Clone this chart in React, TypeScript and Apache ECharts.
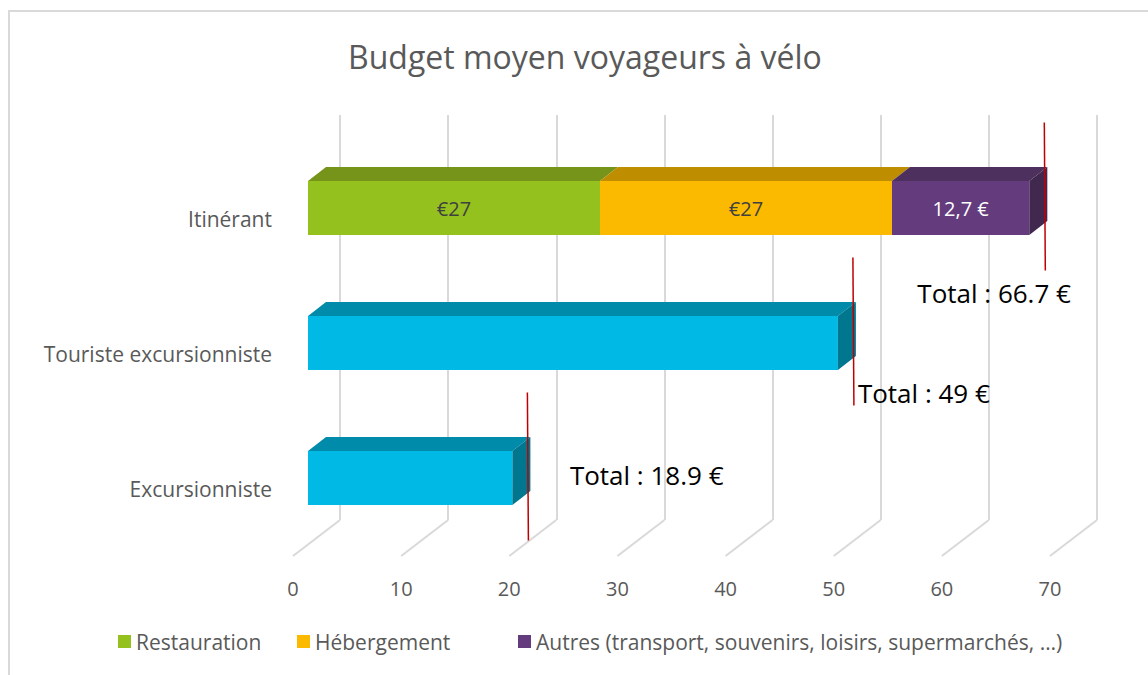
import React, { useEffect, useRef } from "react";
import * as echarts from "echarts";

// ---------- data ----------
const categories = ["Itinérant", "Touriste excursionniste", "Excursionniste"];
const restauration = [27, null, null];
const hebergement = [27, null, null];
const autres = [12.7, null, null];
const budgetGlobal = [null, 49, 18.9]; // profiles without a breakdown
const xMin = 0;
const xMax = 70;
const xStep = 10;
const xTicks = [0, 10, 20, 30, 40, 50, 60, 70];

// ---------- layout / style constants ----------
const FONT = "'Open Sans', 'Noto Sans', sans-serif";
const GREY_TEXT = "#595959";
const GRID_GREY = "#D9D9D9";
const FRONT_DX = -32; // bar front face offset from back plane
const FRONT_DY = 25.5;
const DEPTH_X = 18; // bar depth projection
const DEPTH_Y = -14;
const BAR_H = 54;
const FLOOR_DX = -47;
const FLOOR_DY = 36;
// hand-placed "Total" text boxes, relative to the bar's front-right corner / category centre
const TOTAL_TEXT_OFFSETS = [
  [-112, 110.5],
  [20, 75.5],
  [57.5, 22.5],
];

type Faces = { front: string; top: string; side: string };
const GREEN: Faces = { front: "#95C11F", top: "#76941A", side: "#5F7A14" };
const ORANGE: Faces = { front: "#FBBA00", top: "#BE8D00", side: "#9A7300" };
const PURPLE: Faces = { front: "#643C7D", top: "#4E305F", side: "#41284F" };
const CYAN: Faces = { front: "#00B9E4", top: "#008BAB", side: "#00768F" };

const stackSeries = [
  { name: "Restauration", values: restauration, faces: GREEN, labelColor: "#404040", fmt: (v: number) => `€${v}` },
  { name: "Hébergement", values: hebergement, faces: ORANGE, labelColor: "#404040", fmt: (v: number) => `€${v}` },
  {
    name: "Autres (transport, souvenirs, loisirs, supermarchés, …)",
    values: autres,
    faces: PURPLE,
    labelColor: "#FFFFFF",
    fmt: (v: number) => `${String(v).replace(".", ",")} €`,
  },
];

function totals(): number[] {
  return categories.map((_, i) => {
    let t = 0;
    stackSeries.forEach((s) => (t += s.values[i] ?? 0));
    t += budgetGlobal[i] ?? 0;
    return Math.round(t * 10) / 10;
  });
}

function buildBarData(seriesIdx: number): any[] {
  const all = [...stackSeries.map((s) => s.values), budgetGlobal];
  const out: any[] = [];
  categories.forEach((_, i) => {
    const v = all[seriesIdx][i];
    if (v == null) return;
    let start = 0;
    for (let k = 0; k < seriesIdx; k++) start += all[k][i] ?? 0;
    let isLast = 1;
    for (let k = seriesIdx + 1; k < all.length; k++) if (all[k][i] != null) isLast = 0;
    out.push([i, start, start + v, isLast, v]);
  });
  return out;
}

function barRenderer(faces: Faces, labelColor: string | null, fmt: ((v: number) => string) | null) {
  return (params: any, api: any) => {
    const cat = api.value(0);
    const s = api.value(1);
    const e = api.value(2);
    const isLast = api.value(3);
    const v = api.value(4);
    const p0 = api.coord([s, cat]);
    const p1 = api.coord([e, cat]);
    const x0 = p0[0] + FRONT_DX;
    const x1 = p1[0] + FRONT_DX;
    const yc = p0[1] + FRONT_DY;
    const yT = yc - BAR_H / 2;
    const yB = yc + BAR_H / 2;
    const children: any[] = [
      {
        type: "polygon",
        shape: { points: [[x0, yT], [x1, yT], [x1 + DEPTH_X, yT + DEPTH_Y], [x0 + DEPTH_X, yT + DEPTH_Y]] },
        style: { fill: faces.top },
      },
      {
        type: "rect",
        shape: { x: x0, y: yT, width: x1 - x0, height: BAR_H },
        style: { fill: faces.front },
      },
    ];
    if (isLast) {
      children.push({
        type: "polygon",
        shape: { points: [[x1, yT], [x1 + DEPTH_X, yT + DEPTH_Y], [x1 + DEPTH_X, yB + DEPTH_Y], [x1, yB]] },
        style: { fill: faces.side },
      });
    }
    if (fmt && labelColor) {
      children.push({
        type: "text",
        style: {
          text: fmt(v),
          x: (x0 + x1) / 2,
          y: yc,
          align: "center",
          verticalAlign: "middle",
          fill: labelColor,
          fontSize: 20,
          fontFamily: FONT,
        },
      });
    }
    return { type: "group", children };
  };
}

export default function App() {
  const ref = useRef<HTMLDivElement>(null);
  useEffect(() => {
    document.body.style.margin = "0";
    if (!ref.current) return;
    const chart = echarts.init(ref.current, null, { renderer: "svg" });
    const tot = totals();

    const barSeries: any[] = stackSeries.map((s, idx) => ({
      type: "custom",
      name: s.name,
      xAxisIndex: 0,
      yAxisIndex: 0,
      itemStyle: { color: s.faces.front },
      encode: { x: [1, 2], y: 0 },
      renderItem: barRenderer(s.faces, s.labelColor, s.fmt),
      data: buildBarData(idx),
      z: 3,
    }));
    barSeries.push({
      type: "custom",
      name: "Budget",
      xAxisIndex: 0,
      yAxisIndex: 0,
      itemStyle: { color: CYAN.front },
      encode: { x: [1, 2], y: 0 },
      renderItem: barRenderer(CYAN, null, null),
      data: buildBarData(stackSeries.length),
      z: 3,
    });

    const floorSeries = {
      type: "custom",
      name: "floor",
      xAxisIndex: 0,
      yAxisIndex: 0,
      silent: true,
      encode: { x: 0, y: 1 },
      data: xTicks.map((v) => [v, 0]),
      renderItem: (params: any, api: any) => {
        const p = api.coord([api.value(0), 0]);
        const bottom = params.coordSys.y + params.coordSys.height;
        return {
          type: "line",
          shape: { x1: p[0], y1: bottom, x2: p[0] + FLOOR_DX, y2: bottom + FLOOR_DY },
          style: { stroke: GRID_GREY, lineWidth: 2 },
        };
      },
      z: 1,
    };

    const totalSeries = {
      type: "custom",
      name: "totals",
      xAxisIndex: 0,
      yAxisIndex: 0,
      silent: true,
      encode: { x: 1, y: 0 },
      data: tot.map((t, i) => [i, t]),
      renderItem: (params: any, api: any) => {
        const i = api.value(0);
        const t = api.value(1);
        const p = api.coord([t, i]);
        const fx = p[0] + FRONT_DX;
        const off = TOTAL_TEXT_OFFSETS[i];
        return {
          type: "group",
          children: [
            {
              type: "line",
              shape: { x1: fx + 15, y1: p[1] - 60, x2: fx + 16, y2: p[1] + 88 },
              style: { stroke: "#C00000", lineWidth: 1.5 },
            },
            {
              type: "text",
              style: {
                text: `Total : ${t} €`,
                x: fx + off[0],
                y: p[1] + off[1],
                align: "left",
                verticalAlign: "middle",
                fill: "#000000",
                fontSize: 26,
                fontFamily: FONT,
              },
            },
          ],
        };
      },
      z: 5,
    };

    const legendBase = {
      icon: "rect",
      itemWidth: 13,
      itemHeight: 13,
      top: 631,
      padding: 0,
      selectedMode: false,
      textStyle: { color: GREY_TEXT, fontSize: 21, fontFamily: FONT },
    };

    chart.setOption({
      animation: false,
      backgroundColor: "#FFFFFF",
      title: {
        text: "Budget moyen voyageurs à vélo",
        left: 343,
        top: 35,
        textStyle: { color: GREY_TEXT, fontSize: 32, fontWeight: "normal", fontFamily: FONT },
      },
      legend: [
        { ...legendBase, left: 118, data: [stackSeries[0].name] },
        { ...legendBase, left: 297, data: [stackSeries[1].name] },
        { ...legendBase, left: 518, data: [stackSeries[2].name] },
      ],
      grid: [
        { left: 340, right: 51, top: 115, bottom: 155 },
        { left: 293, right: 98, top: 151, bottom: 119 },
      ],
      xAxis: [
        {
          gridIndex: 0,
          type: "value",
          min: xMin,
          max: xMax,
          interval: xStep,
          axisLine: { show: false },
          axisTick: { show: false },
          axisLabel: { show: false },
          splitLine: { show: true, lineStyle: { color: GRID_GREY, width: 2 } },
        },
        {
          gridIndex: 1,
          type: "value",
          min: xMin,
          max: xMax,
          interval: xStep,
          axisLine: { show: false },
          axisTick: { show: false },
          splitLine: { show: false },
          axisLabel: { color: GREY_TEXT, fontSize: 20, fontFamily: FONT, margin: 22 },
        },
      ],
      yAxis: [
        {
          gridIndex: 0,
          type: "category",
          inverse: true,
          data: categories,
          axisLine: { show: false },
          axisTick: { show: false },
          axisLabel: { show: false },
          splitLine: { show: false },
        },
        {
          gridIndex: 1,
          type: "category",
          inverse: true,
          data: categories,
          axisLine: { show: false },
          axisTick: { show: false },
          splitLine: { show: false },
          axisLabel: { color: GREY_TEXT, fontSize: 21, fontFamily: FONT, margin: 21 },
        },
      ],
      graphic: [
        {
          type: "rect",
          shape: { x: 9, y: 11, width: 1200, height: 700 },
          style: { fill: "none", stroke: GRID_GREY, lineWidth: 2 },
          silent: true,
          z: -10,
        },
      ],
      series: [floorSeries, ...barSeries, totalSeries],
    });
    return () => chart.dispose();
  }, []);
  return <div ref={ref} style={{ width: 1148, height: 675 }} />;
}
